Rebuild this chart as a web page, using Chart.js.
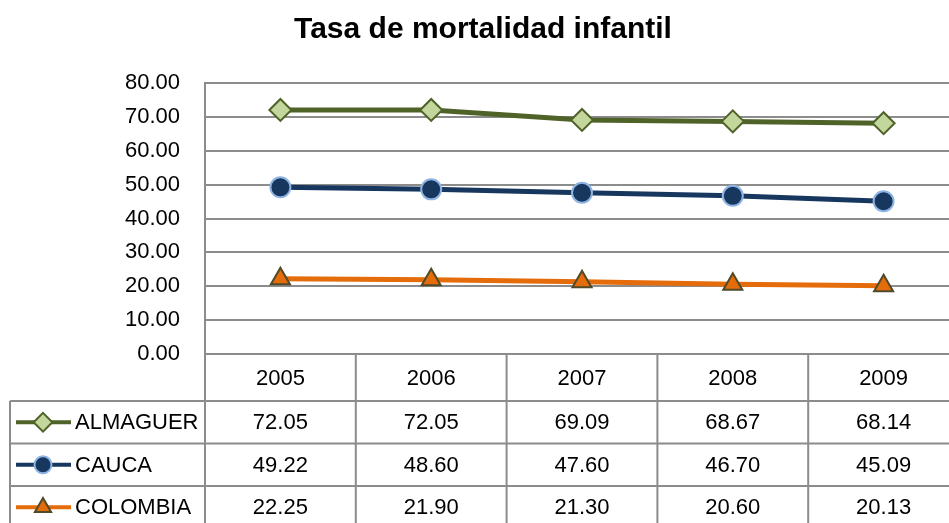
<!DOCTYPE html>
<html>
<head>
<meta charset="utf-8">
<script src="https://cdn.jsdelivr.net/npm/chart.js@4/dist/chart.umd.min.js"></script>
<style>
  html, body { margin: 0; padding: 0; background: #fff; overflow: hidden; }
  #wrap { width: 949px; height: 523px; overflow: hidden; }
  canvas { display: block; }
</style>
</head>
<body>
<div id="wrap"><canvas id="myChart" width="972" height="523"></canvas></div>
<script>
const years = ['2005', '2006', '2007', '2008', '2009'];
const almaguer = [72.05, 72.05, 69.09, 68.67, 68.14];
const cauca = [49.22, 48.60, 47.60, 46.70, 45.09];
const colombia = [22.25, 21.90, 21.30, 20.60, 20.13];
const seriesNames = ['ALMAGUER', 'CAUCA', 'COLOMBIA'];
const yMin = 0, yMax = 80, yStep = 10;

const FONT = "'Liberation Sans', Arial, sans-serif";
const GRID = '#8c8c8c';

// data table under the plot, built from the x scale
const dataTable = {
  id: 'dataTable',
  afterDraw(chart) {
    const ctx = chart.ctx;
    const x = chart.scales.x;
    const area = chart.chartArea;
    const colW = x.getPixelForValue(1) - x.getPixelForValue(0);
    const left = x.getPixelForValue(0) - colW / 2;
    const right = x.getPixelForValue(years.length - 1) + colW / 2;
    const top = area.bottom;
    const headH = 47, rowH = 42.5, tableLeft = 10;
    const bottom = chart.height + 5;

    ctx.save();
    ctx.strokeStyle = GRID;
    ctx.lineWidth = 2;
    ctx.beginPath();
    // horizontal lines
    for (let r = 0; r < chart.data.datasets.length; r++) {
      const y = top + headH + r * rowH;
      ctx.moveTo(tableLeft, y); ctx.lineTo(right, y);
    }
    // vertical lines
    for (let i = 0; i <= years.length; i++) {
      const xx = left + i * colW;
      ctx.moveTo(xx, top); ctx.lineTo(xx, bottom);
    }
    ctx.moveTo(tableLeft, top + headH); ctx.lineTo(tableLeft, bottom);
    ctx.stroke();

    ctx.fillStyle = '#000';
    ctx.font = '22px ' + FONT;
    ctx.textAlign = 'center';
    ctx.textBaseline = 'middle';
    years.forEach((yr, i) => {
      ctx.fillText(yr, x.getPixelForValue(i), top + headH / 2 + 1);
    });

    chart.data.datasets.forEach((ds, r) => {
      const cy = top + headH + r * rowH + rowH / 2 + 1;
      ds.data.forEach((v, i) => {
        ctx.fillStyle = '#000';
        ctx.textAlign = 'center';
        ctx.fillText(v.toFixed(2), x.getPixelForValue(i), cy);
      });
      // legend key
      ctx.strokeStyle = ds.borderColor;
      ctx.lineWidth = 4;
      ctx.beginPath();
      ctx.moveTo(16, cy - 1); ctx.lineTo(71, cy - 1);
      ctx.stroke();
      ctx.fillStyle = ds.pointBackgroundColor;
      ctx.strokeStyle = ds.pointBorderColor;
      ctx.lineWidth = ds.pointBorderWidth;
      Chart.helpers.drawPoint(ctx, {
        pointStyle: ds.pointStyle,
        radius: ds.pointRadius * 0.85,
        borderWidth: ds.pointBorderWidth,
        rotation: 0
      }, 43, cy - 1);
      ctx.fillStyle = '#000';
      ctx.textAlign = 'left';
      ctx.fillText(seriesNames[r], 75, cy);
    });
    ctx.restore();
  }
};

const ctx = document.getElementById('myChart');
new Chart(ctx, {
  type: 'line',
  data: {
    labels: years,
    datasets: [{
      label: seriesNames[0],
      data: almaguer,
      borderColor: '#4F6228',
      borderWidth: 5,
      pointStyle: 'rectRot',
      pointRadius: 11,
      pointBackgroundColor: '#C3D69B',
      pointBorderColor: '#4F6228',
      pointBorderWidth: 2
    }, {
      label: seriesNames[1],
      data: cauca,
      borderColor: '#17375E',
      borderWidth: 5,
      pointStyle: 'circle',
      pointRadius: 10,
      pointBackgroundColor: '#17375E',
      pointBorderColor: '#8DB4E2',
      pointBorderWidth: 2
    }, {
      label: seriesNames[2],
      data: colombia,
      borderColor: '#E46C0A',
      borderWidth: 5,
      pointStyle: 'triangle',
      pointRadius: 11,
      pointBackgroundColor: '#E46C0A',
      pointBorderColor: '#4F4A2A',
      pointBorderWidth: 2
    }]
  },
  options: {
    responsive: false,
    animation: false,
    layout: { padding: { left: 0, right: 6, top: 0, bottom: 169 } },
    plugins: {
      legend: { display: false },
      tooltip: { enabled: false },
      title: {
        display: true,
        text: 'Tasa de mortalidad infantil',
        color: '#000',
        font: { family: FONT, size: 30, weight: 'bold' },
        padding: { top: 12, bottom: 35 }
      }
    },
    scales: {
      x: {
        offset: true,
        grid: { display: false },
        border: { display: false },
        ticks: { display: false },
        afterFit(s) { s.height = 0; }
      },
      y: {
        min: yMin,
        max: yMax,
        ticks: {
          stepSize: yStep,
          color: '#000',
          font: { family: FONT, size: 22 },
          padding: 25,
          callback: v => v.toFixed(2)
        },
        grid: { color: GRID, lineWidth: 2, drawTicks: false },
        border: { color: GRID, width: 2 },
        afterFit(s) { s.width = 205; }
      }
    }
  },
  plugins: [dataTable]
});
</script>
</body>
</html>
